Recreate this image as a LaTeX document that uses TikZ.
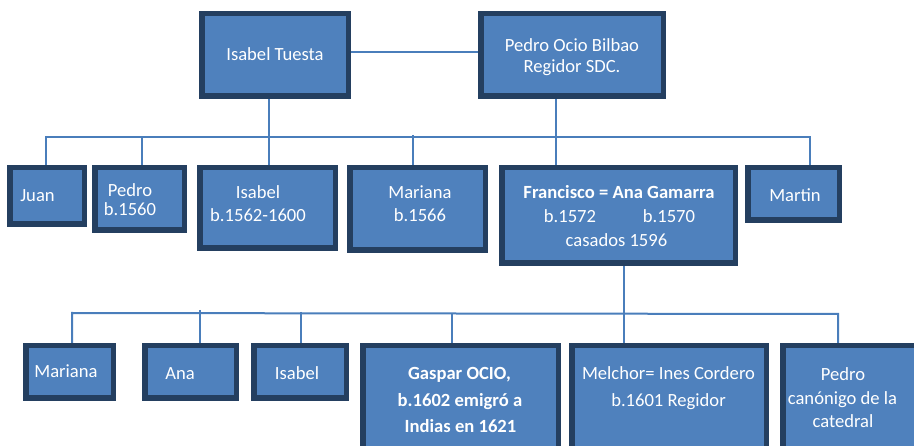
\documentclass[tikz,border=0pt]{standalone}
\usepackage{fontspec}
\setmainfont{Carlito}
\definecolor{boxfill}{HTML}{4F81BD}
\definecolor{boxedge}{HTML}{243F60}
\definecolor{linkc}{HTML}{4A7EBB}
\pgfdeclarelayer{bg}
\pgfsetlayers{bg,main}
\newcommand\mkbox[5]{\node[pbox, minimum width={(#4)-(#2)-5.5}, minimum height={(#5)-(#3)-5.5}] (#1) at ({((#2)+(#4))/2},{((#3)+(#5))/2}) {};}
\begin{document}
\begin{tikzpicture}[x=1pt,y=-1pt,
  pbox/.style={draw=boxedge, fill=boxfill, line width=5.5pt, rectangle, inner sep=0pt, outer sep=0pt},
  txt/.style={text=white, inner sep=0pt, anchor=base, font=\fontsize{18.6}{22}\selectfont},
  btxt/.style={text=white, inner sep=0pt, anchor=base, font=\fontsize{18.6}{22}\selectfont\bfseries},
  link/.style={draw=linkc, line width=2pt}]
\useasboundingbox (0,0) rectangle (914,446);
% boxes
\mkbox{isaT}{199}{11}{351}{99}
\mkbox{pedO}{478}{11}{666}{99}
\mkbox{juan}{7}{165}{87}{227}
\mkbox{pedro}{92}{165}{187}{233}
\mkbox{isabel}{197}{165}{338}{251}
\mkbox{mariana}{347}{165}{488}{253}
\mkbox{fran}{499}{165}{738}{266}
\mkbox{martin}{745}{165}{842}{223}
\mkbox{mar2}{23}{343}{116}{401}
\mkbox{ana}{142}{343}{239}{401}
\mkbox{isa2}{251}{343}{349}{401}
\mkbox{gas}{360}{343}{561}{470}
\mkbox{mel}{569}{343}{769}{470}
\mkbox{ped2}{780}{343}{930}{470}
% texts
\node[txt] (t1) at (275,61) {Isabel Tuesta};
\node[txt] (t2a) at (572,52) {Pedro Ocio Bilbao};
\node[txt] (t2b) at (572,73) {Regidor SDC.};
\node[txt] (t3) at (37.5,202) {Juan};
\node[txt] (t4a) at (130,197) {Pedro};
\node[txt] (t4b) at (130,216) {b.1560};
\node[txt] (t5a) at (258,199) {Isabel};
\node[txt] (t5b) at (258,222) {b.1562-1600};
\node[txt] (t6a) at (420,199) {Mariana};
\node[txt] (t6b) at (420,222) {b.1566};
\node[btxt] (t7a) at (619,199) {Francisco = Ana Gamarra};
\node[txt] (t7b) at (570,223) {b.1572};
\node[txt] (t7c) at (669,223) {b.1570};
\node[txt] (t7d) at (616.5,247) {casados 1596};
\node[txt] (t8) at (795,202) {Martin};
\node[txt] (t9) at (66,378) {Mariana};
\node[txt] (t10) at (180,380) {Ana};
\node[txt] (t11) at (297,380) {Isabel};
\node[btxt] (t12a) at (459.5,380) {Gaspar OCIO,};
\node[btxt] (t12b) at (460,407) {b.1602 emigró a};
\node[btxt] (t12c) at (460.5,433) {Indias en 1621};
\node[txt] (t13a) at (668.5,380) {Melchor= Ines Cordero};
\node[txt] (t13b) at (668.5,407) {b.1601 Regidor};
\node[txt] (t14a) at (843,381) {Pedro};
\node[txt] (t14b) at (842.5,405) {canónigo de la};
\node[txt] (t14c) at (843,428) {catedral};
% connector points
\coordinate (b1L) at (46,137);
\coordinate (b1R) at (810,137);
\coordinate (dp) at (142,137);
\coordinate (dm) at (413,135);
\coordinate (xi) at (269,0);
\coordinate (xf) at (556,0);
\coordinate (b2L) at (72,313);
\coordinate (b2R) at (838,314);
\coordinate (da) at (200,310);
\coordinate (di2) at (301,312);
\coordinate (dg) at (452,313);
\coordinate (xm) at (624,0);
\begin{pgfonlayer}{bg}
\draw[link] ([yshift=3pt]isaT.east) -- ([yshift=3pt]pedO.west);
\draw[link] (juan.north -| b1L) -- (b1L) -- (b1R) -- (b1R |- martin.north);
\draw[link] (dp) -- (dp |- pedro.north);
\draw[link] (dm) -- (dm |- mariana.north);
\draw[link] (isaT.south -| xi) -- (isabel.north -| xi);
\draw[link] (pedO.south -| xf) -- (fran.north -| xf);
\draw[link] (mar2.north -| b2L) -- (b2L) -- (b2R) -- (b2R |- ped2.north);
\draw[link] (da) -- (da |- ana.north);
\draw[link] (di2) -- (di2 |- isa2.north);
\draw[link] (dg) -- (dg |- gas.north);
\draw[link] (fran.south -| xm) -- (mel.north -| xm);
\end{pgfonlayer}
\end{tikzpicture}
\end{document}
